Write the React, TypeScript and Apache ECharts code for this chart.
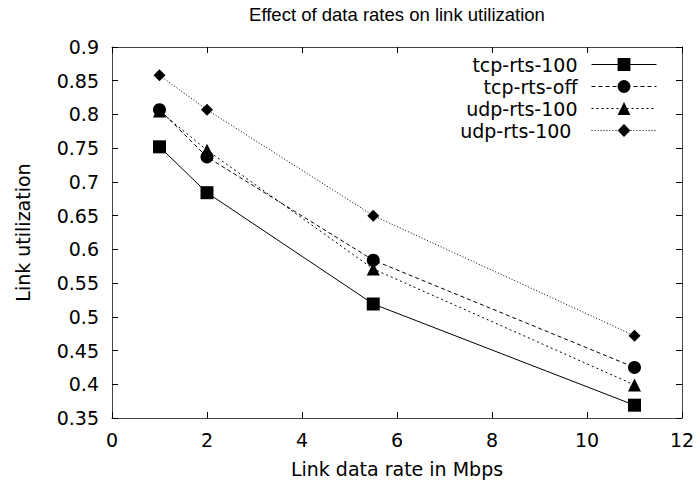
import React, { useEffect, useRef } from "react";
import * as echarts from "echarts";

const xValues = [1, 2, 5.5, 11];
const tcpRts100 = [0.752, 0.684, 0.519, 0.369];
const tcpRtsOff = [0.807, 0.737, 0.584, 0.425];
const udpRts100a = [0.805, 0.747, 0.571, 0.399];
const udpRts100b = [0.858, 0.807, 0.65, 0.472];
const seriesNames = ["tcp-rts-100", "tcp-rts-off", "udp-rts-100", "udp-rts-100 "];

const FONT = "DejaVu Sans";
const FS = 19;

export default function App() {
  const ref = useRef<HTMLDivElement>(null);
  useEffect(() => {
    if (!ref.current) return;
    const chart = echarts.init(ref.current, undefined, { renderer: "svg" });
    const pair = (ys: number[]) => xValues.map((x, i) => [x, ys[i]]);
    const axisCommon = {
      axisLine: { show: true, onZero: false, lineStyle: { color: "#444", width: 1 } },
      axisTick: { show: true, inside: true, length: 6, lineStyle: { color: "#000", width: 1 } },
      splitLine: { show: false },
    };
    const mk = (name: string, ys: number[], symbol: string, size: number, type: any) => ({
      name,
      type: "line",
      data: pair(ys),
      symbol,
      symbolSize: size,
      showAllSymbol: true,
      itemStyle: { color: "#000" },
      lineStyle: { color: "#000", width: 1, type },
    });
    chart.setOption({
      animation: false,
      backgroundColor: "#fff",
      textStyle: { fontFamily: FONT },
      title: {
        text: "Effect of data rates on link utilization",
        left: 392,
        top: 0,
        textAlign: "center",
        textStyle: { fontFamily: "Liberation Sans", fontSize: 18.5, fontWeight: "normal", color: "#000" },
      },
      legend: {
        orient: "vertical",
        right: 36,
        top: 50,
        align: "right",
        itemWidth: 65,
        itemHeight: 16,
        itemGap: 3,
        lineStyle: { width: 1 },
        textStyle: { fontFamily: FONT, fontSize: FS, color: "#000", padding: [0, 9, 0, 0] },
        data: seriesNames,
      },
      grid: { left: 112, right: 16, top: 47, bottom: 68 },
      xAxis: [
        {
          type: "value",
          min: 0,
          max: 12,
          interval: 2,
          name: "Link data rate in Mbps",
          nameLocation: "middle",
          nameGap: 41,
          nameTextStyle: { fontFamily: FONT, fontSize: FS, color: "#000" },
          axisLabel: { fontFamily: FONT, fontSize: FS, color: "#000", margin: 12 },
          ...axisCommon,
        },
        {
          type: "value",
          position: "top",
          min: 0,
          max: 12,
          interval: 2,
          axisLabel: { show: false },
          ...axisCommon,
        },
      ],
      yAxis: [
        {
          type: "value",
          min: 0.35,
          max: 0.9,
          interval: 0.05,
          name: "Link utilization",
          nameLocation: "middle",
          nameGap: 80,
          nameTextStyle: { fontFamily: FONT, fontSize: FS, color: "#000" },
          axisLabel: { fontFamily: FONT, fontSize: FS, color: "#000", margin: 13 },
          ...axisCommon,
        },
        {
          type: "value",
          position: "right",
          min: 0.35,
          max: 0.9,
          interval: 0.05,
          axisLabel: { show: false },
          ...axisCommon,
        },
      ],
      series: [
        mk(seriesNames[0], tcpRts100, "rect", 13, "solid"),
        mk(seriesNames[1], tcpRtsOff, "circle", 13, [4, 3]),
        mk(seriesNames[2], udpRts100a, "triangle", 13, [2, 3]),
        mk(seriesNames[3], udpRts100b, "diamond", 12, [1, 2]),
      ],
    });
    return () => chart.dispose();
  }, []);
  return <div ref={ref} style={{ width: 698, height: 486, position: "absolute", left: 0, top: 0 }} />;
}
